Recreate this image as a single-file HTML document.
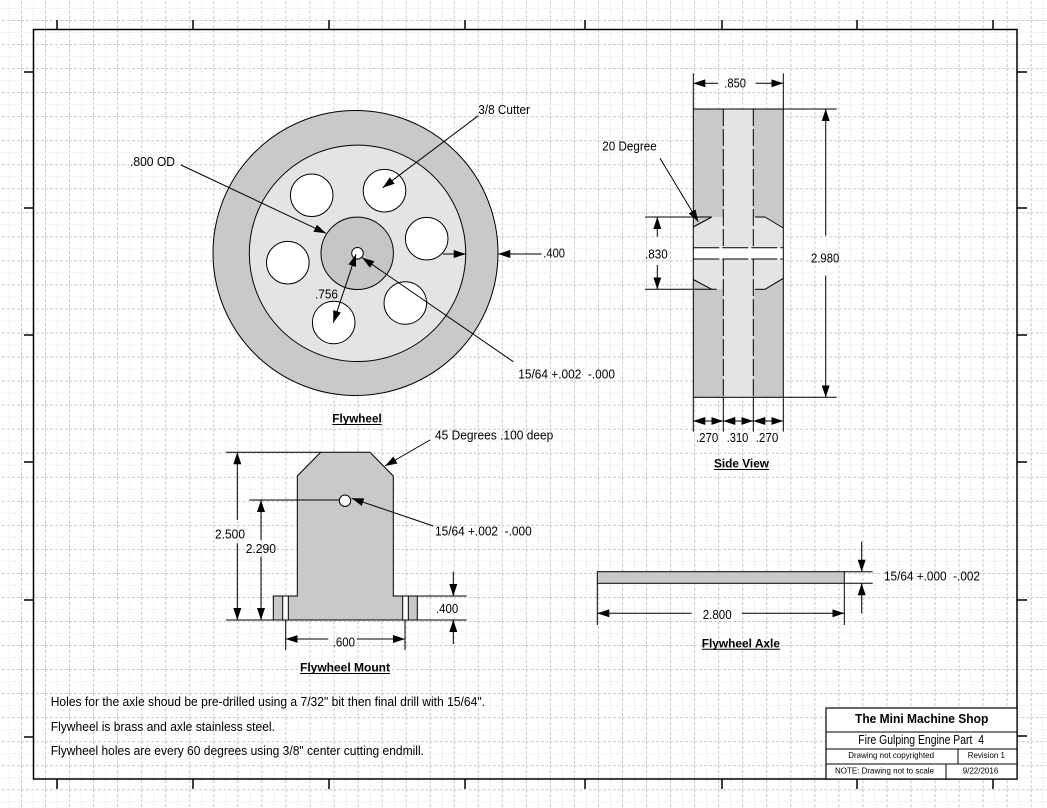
<!DOCTYPE html>
<html><head><meta charset="utf-8">
<style>
html,body{margin:0;padding:0;background:#fff;}
svg{display:block;}
text{font-family:"Liberation Sans",Arial,sans-serif;fill:#000;}
</style></head><body>
<svg width="1047" height="808" viewBox="0 0 1047 808" xmlns="http://www.w3.org/2000/svg">
<defs>
<pattern id="g" width="24.04" height="24.04" patternUnits="userSpaceOnUse" x="21" y="20">
 <line x1="0.5" y1="0" x2="0.5" y2="24.04" stroke="#c6c6c6" stroke-width="1" stroke-dasharray="3 2"/>
 <line x1="0" y1="0.5" x2="24.04" y2="0.5" stroke="#c6c6c6" stroke-width="1" stroke-dasharray="3 2"/>
 <line x1="12.5" y1="0" x2="12.5" y2="24.04" stroke="#dadada" stroke-width="1" stroke-dasharray="1 2"/>
 <line x1="0" y1="12.5" x2="24.04" y2="12.5" stroke="#dadada" stroke-width="1" stroke-dasharray="1 2"/>
</pattern>
<marker id="a" viewBox="0 0 12 8" refX="12" refY="4" markerWidth="12" markerHeight="8" markerUnits="userSpaceOnUse" orient="auto-start-reverse"><path d="M0,0 L12,4 L0,8 z" fill="#000"/></marker>
</defs>
<rect width="1047" height="808" fill="#fff"/>
<rect width="1047" height="808" fill="url(#g)"/>

<!-- frame -->
<rect x="33.5" y="29.5" width="983.5" height="749.5" fill="none" stroke="#000" stroke-width="1.5"/>
<g stroke="#000" stroke-width="1.5">
 <line x1="57" y1="20" x2="57" y2="29"/><line x1="193" y1="20" x2="193" y2="29"/><line x1="329" y1="20" x2="329" y2="29"/><line x1="465" y1="20" x2="465" y2="29"/><line x1="585" y1="20" x2="585" y2="29"/><line x1="722" y1="20" x2="722" y2="29"/><line x1="857" y1="20" x2="857" y2="29"/><line x1="993" y1="20" x2="993" y2="29"/>
 <line x1="57" y1="779" x2="57" y2="789"/><line x1="193" y1="779" x2="193" y2="789"/><line x1="329" y1="779" x2="329" y2="789"/><line x1="465" y1="779" x2="465" y2="789"/><line x1="585" y1="779" x2="585" y2="789"/><line x1="722" y1="779" x2="722" y2="789"/><line x1="857" y1="779" x2="857" y2="789"/><line x1="993" y1="779" x2="993" y2="789"/>
 <line x1="24" y1="72" x2="33" y2="72"/><line x1="24" y1="208" x2="33" y2="208"/><line x1="24" y1="335" x2="33" y2="335"/><line x1="24" y1="462" x2="33" y2="462"/><line x1="24" y1="600" x2="33" y2="600"/><line x1="24" y1="737" x2="33" y2="737"/>
 <line x1="1017" y1="72" x2="1027" y2="72"/><line x1="1017" y1="208" x2="1027" y2="208"/><line x1="1017" y1="335" x2="1027" y2="335"/><line x1="1017" y1="462" x2="1027" y2="462"/><line x1="1017" y1="600" x2="1027" y2="600"/><line x1="1017" y1="736" x2="1027" y2="736"/>
</g>

<!-- Flywheel -->
<circle cx="355.5" cy="253" r="142.5" fill="#c9c9c9" stroke="#000"/>
<circle cx="357.5" cy="253.3" r="108.2" fill="#e4e4e4" stroke="#000"/>
<circle cx="357.2" cy="253.3" r="36.2" fill="#c6c6c6" stroke="#000"/>
<circle cx="357.5" cy="253.3" r="5.8" fill="#fff" stroke="#000"/>
<g fill="#fff" stroke="#000">
 <circle cx="311.7" cy="195.3" r="21.3"/>
 <circle cx="384.5" cy="190.7" r="21.3"/>
 <circle cx="426.7" cy="238.7" r="21.3"/>
 <circle cx="287.8" cy="262.7" r="21.3"/>
 <circle cx="405.3" cy="303" r="21.3"/>
 <circle cx="333.7" cy="322.5" r="21.3"/>
</g>
<g stroke="#000" stroke-width="1" fill="none">
 <line x1="478.3" y1="115.7" x2="382.7" y2="187.7" marker-end="url(#a)"/>
 <line x1="181" y1="165" x2="326" y2="233.3" marker-end="url(#a)"/>
 <line x1="356" y1="254.3" x2="333.3" y2="322.7" marker-start="url(#a)" marker-end="url(#a)"/>
 <line x1="513.3" y1="361.7" x2="362.3" y2="257.7" marker-end="url(#a)"/>
 <line x1="541.7" y1="254" x2="498.3" y2="254" marker-end="url(#a)"/>
 <line x1="442.7" y1="254" x2="465.7" y2="254" marker-end="url(#a)"/>
</g>
<text x="478.3" y="114" font-size="12.5" textLength="51.7" lengthAdjust="spacingAndGlyphs">3/8 Cutter</text>
<text x="130" y="166" font-size="12.5" textLength="45" lengthAdjust="spacingAndGlyphs">.800 OD</text>
<text x="315" y="298.5" font-size="12.5" textLength="23" lengthAdjust="spacingAndGlyphs">.756</text>
<text x="518.3" y="378.5" font-size="12.5" textLength="96.7" lengthAdjust="spacingAndGlyphs">15/64 +.002&#160; -.000</text>
<text x="543.3" y="257.5" font-size="12.5" textLength="21.7" lengthAdjust="spacingAndGlyphs">.400</text>
<text x="332.3" y="422.7" font-size="12" font-weight="bold" textLength="49.4" lengthAdjust="spacingAndGlyphs">Flywheel</text>
<line x1="332.3" y1="424.5" x2="381.7" y2="424.5" stroke="#000" stroke-width="1"/>

<!-- Side view -->
<rect x="693.3" y="109" width="90" height="288.3" fill="#c9c9c9"/>
<rect x="723.3" y="109" width="30" height="288.3" fill="#e4e4e4"/>
<polygon points="711.7,217 765,217 783.3,228 783.3,278.3 765,289.3 711.7,289.3 693.3,279.5 693.3,227" fill="#e4e4e4"/>
<g stroke="#000" stroke-width="1" fill="none">
 <line x1="723.3" y1="109" x2="723.3" y2="247.7" stroke-dasharray="17 3"/>
 <line x1="753.3" y1="109" x2="753.3" y2="247.7" stroke-dasharray="17 3"/>
 <line x1="723.3" y1="259" x2="723.3" y2="397.3" stroke-dasharray="17 3"/>
 <line x1="753.3" y1="259" x2="753.3" y2="397.3" stroke-dasharray="17 3"/>
</g>
<rect x="693.3" y="247.7" width="90" height="11.3" fill="#fff"/>
<g stroke="#000" stroke-width="1" fill="none">
 <line x1="693.3" y1="247.7" x2="783.3" y2="247.7" stroke-dasharray="26 3"/>
 <line x1="693.3" y1="259" x2="783.3" y2="259" stroke-dasharray="26 3"/>
 <rect x="693.3" y="109" width="90" height="288.3"/>
 <line x1="711.7" y1="217" x2="693.3" y2="227"/>
 <line x1="765" y1="217" x2="783.3" y2="228"/>
 <line x1="755" y1="217" x2="765" y2="217"/>
 <line x1="693.3" y1="279.5" x2="711.7" y2="289.3"/>
 <line x1="765" y1="289.3" x2="783.3" y2="278.3"/>
 <line x1="755" y1="289.3" x2="765" y2="289.3"/>
 <!-- .850 -->
 <line x1="693.3" y1="73.3" x2="693.3" y2="109"/>
 <line x1="783.3" y1="73.3" x2="783.3" y2="109"/>
 <line x1="718" y1="83.3" x2="693.3" y2="83.3" marker-end="url(#a)"/>
 <line x1="755.7" y1="83.3" x2="783.3" y2="83.3" marker-end="url(#a)"/>
 <!-- 2.980 -->
 <line x1="783.3" y1="109" x2="836.7" y2="109"/>
 <line x1="783.3" y1="397.3" x2="836.7" y2="397.3"/>
 <line x1="825.7" y1="235.7" x2="825.7" y2="109" marker-end="url(#a)"/>
 <line x1="825.7" y1="275.7" x2="825.7" y2="397.3" marker-end="url(#a)"/>
 <!-- .830 -->
 <line x1="645" y1="217" x2="711.7" y2="217"/>
 <line x1="645" y1="289.3" x2="716.7" y2="289.3"/>
 <line x1="657.3" y1="236.7" x2="657.3" y2="217" marker-end="url(#a)"/>
 <line x1="657.3" y1="265" x2="657.3" y2="289.3" marker-end="url(#a)"/>
 <!-- 20 degree -->
 <line x1="660" y1="158.3" x2="698.3" y2="221.7" marker-end="url(#a)"/>
 <!-- bottom dims -->
 <line x1="693.3" y1="397.3" x2="693.3" y2="431.7"/>
 <line x1="723.3" y1="397.3" x2="723.3" y2="431.7"/>
 <line x1="753.3" y1="397.3" x2="753.3" y2="431.7"/>
 <line x1="783.3" y1="397.3" x2="783.3" y2="431.7"/>
 <line x1="693.3" y1="421" x2="723.3" y2="421" marker-start="url(#a)" marker-end="url(#a)"/>
 <line x1="723.3" y1="421" x2="753.3" y2="421" marker-start="url(#a)" marker-end="url(#a)"/>
 <line x1="753.3" y1="421" x2="783.3" y2="421" marker-start="url(#a)" marker-end="url(#a)"/>
</g>
<text x="724.3" y="87.5" font-size="12.5" textLength="21.7" lengthAdjust="spacingAndGlyphs">.850</text>
<text x="602.3" y="150.5" font-size="12.5" textLength="54.4" lengthAdjust="spacingAndGlyphs">20 Degree</text>
<text x="645" y="258.5" font-size="12.5" textLength="22.7" lengthAdjust="spacingAndGlyphs">.830</text>
<text x="811" y="262.7" font-size="12.5" textLength="28.3" lengthAdjust="spacingAndGlyphs">2.980</text>
<text x="696" y="442" font-size="12.5" textLength="22.3" lengthAdjust="spacingAndGlyphs">.270</text>
<text x="726.7" y="442" font-size="12.5" textLength="21.6" lengthAdjust="spacingAndGlyphs">.310</text>
<text x="755.7" y="442" font-size="12.5" textLength="22.6" lengthAdjust="spacingAndGlyphs">.270</text>
<text x="714" y="467.5" font-size="12" font-weight="bold" textLength="55" lengthAdjust="spacingAndGlyphs">Side View</text>
<line x1="714" y1="469.5" x2="769" y2="469.5" stroke="#000" stroke-width="1"/>

<!-- Flywheel Mount -->
<polygon points="320.7,452.3 370,452.3 393.3,476 393.3,596 417.3,596 417.3,620 273.3,620 273.3,596 297.3,596 297.3,476" fill="#c9c9c9" stroke="#000"/>
<rect x="282.7" y="596" width="5.6" height="24" fill="#fff" stroke="#000"/>
<rect x="402.7" y="596" width="5.6" height="24" fill="#fff" stroke="#000"/>
<circle cx="345" cy="500.7" r="5.7" fill="#fff" stroke="#000"/>
<g stroke="#000" stroke-width="1" fill="none">
 <line x1="226" y1="452.3" x2="320.7" y2="452.3"/>
 <line x1="226" y1="620" x2="466.7" y2="620"/>
 <line x1="393.3" y1="596" x2="466.7" y2="596"/>
 <line x1="249.3" y1="500" x2="339.3" y2="500"/>
 <line x1="237.3" y1="520" x2="237.3" y2="452.3" marker-end="url(#a)"/>
 <line x1="237.3" y1="543.3" x2="237.3" y2="620" marker-end="url(#a)"/>
 <line x1="261" y1="540" x2="261" y2="500" marker-end="url(#a)"/>
 <line x1="261" y1="556.7" x2="261" y2="620" marker-end="url(#a)"/>
 <line x1="453.3" y1="571.7" x2="453.3" y2="596" marker-end="url(#a)"/>
 <line x1="453.3" y1="644" x2="453.3" y2="620" marker-end="url(#a)"/>
 <line x1="285.7" y1="620" x2="285.7" y2="650"/>
 <line x1="405" y1="620" x2="405" y2="650"/>
 <line x1="328.3" y1="639" x2="285.7" y2="639" marker-end="url(#a)"/>
 <line x1="356.7" y1="639" x2="405" y2="639" marker-end="url(#a)"/>
 <line x1="430" y1="440" x2="385" y2="466" marker-end="url(#a)"/>
 <line x1="433.3" y1="526" x2="351.7" y2="498.3" marker-end="url(#a)"/>
</g>
<text x="435" y="439.5" font-size="12.5" textLength="118.3" lengthAdjust="spacingAndGlyphs">45 Degrees .100 deep</text>
<text x="215" y="538.5" font-size="12.5" textLength="30" lengthAdjust="spacingAndGlyphs">2.500</text>
<text x="245.7" y="553" font-size="12.5" textLength="30.3" lengthAdjust="spacingAndGlyphs">2.290</text>
<text x="435" y="535.5" font-size="12.5" textLength="96.7" lengthAdjust="spacingAndGlyphs">15/64 +.002&#160; -.000</text>
<text x="436" y="613" font-size="12.5" textLength="22.3" lengthAdjust="spacingAndGlyphs">.400</text>
<text x="332.7" y="646.5" font-size="12.5" textLength="22.3" lengthAdjust="spacingAndGlyphs">.600</text>
<text x="300" y="671.7" font-size="12" font-weight="bold" textLength="90" lengthAdjust="spacingAndGlyphs">Flywheel Mount</text>
<line x1="300" y1="673.5" x2="390" y2="673.5" stroke="#000" stroke-width="1"/>

<!-- Axle -->
<rect x="597.3" y="571.7" width="247" height="11.6" fill="#c9c9c9" stroke="#000"/>
<g stroke="#000" stroke-width="1" fill="none">
 <line x1="844.3" y1="571.7" x2="872.7" y2="571.7"/>
 <line x1="844.3" y1="583.3" x2="872.7" y2="583.3"/>
 <line x1="861.7" y1="541.7" x2="861.7" y2="571.7" marker-end="url(#a)"/>
 <line x1="861.7" y1="613.3" x2="861.7" y2="583.3" marker-end="url(#a)"/>
 <line x1="597.3" y1="583.3" x2="597.3" y2="625"/>
 <line x1="844.3" y1="583.3" x2="844.3" y2="625"/>
 <line x1="691.7" y1="613.3" x2="597.3" y2="613.3" marker-end="url(#a)"/>
 <line x1="741.7" y1="613.3" x2="844.3" y2="613.3" marker-end="url(#a)"/>
</g>
<text x="884" y="580.5" font-size="12.5" textLength="96" lengthAdjust="spacingAndGlyphs">15/64 +.000&#160; -.002</text>
<text x="702.7" y="619" font-size="12.5" textLength="29" lengthAdjust="spacingAndGlyphs">2.800</text>
<text x="701.7" y="647.3" font-size="12" font-weight="bold" textLength="78.3" lengthAdjust="spacingAndGlyphs">Flywheel Axle</text>
<line x1="701.7" y1="649.2" x2="780" y2="649.2" stroke="#000" stroke-width="1"/>

<!-- Notes -->
<text x="50.7" y="706" font-size="13" textLength="434.3" lengthAdjust="spacingAndGlyphs">Holes for the axle shoud be pre-drilled using a 7/32" bit then final drill with 15/64".</text>
<text x="50.7" y="731" font-size="13" textLength="224.3" lengthAdjust="spacingAndGlyphs">Flywheel is brass and axle stainless steel.</text>
<text x="50.7" y="755" font-size="13" textLength="373.3" lengthAdjust="spacingAndGlyphs">Flywheel holes are every 60 degrees using 3/8" center cutting endmill.</text>

<!-- Title block -->
<rect x="826" y="708" width="191" height="71" fill="#fff" stroke="#000" stroke-width="1.2"/>
<g stroke="#000" stroke-width="1">
 <line x1="826" y1="732" x2="1017" y2="732"/>
 <line x1="826" y1="749" x2="1017" y2="749"/>
 <line x1="826" y1="764" x2="1017" y2="764"/>
 <line x1="958" y1="749" x2="958" y2="764"/>
 <line x1="946" y1="764" x2="946" y2="779"/>
</g>
<text x="855" y="723" font-size="13" font-weight="bold" textLength="133.3" lengthAdjust="spacingAndGlyphs">The Mini Machine Shop</text>
<text x="858.3" y="744" font-size="12.5" textLength="125.7" lengthAdjust="spacingAndGlyphs">Fire Gulping Engine Part&#160; 4</text>
<text x="848.3" y="758" font-size="8.5" textLength="85.7" lengthAdjust="spacingAndGlyphs">Drawing not copyrighted</text>
<text x="967.7" y="758" font-size="8.5" textLength="37.3" lengthAdjust="spacingAndGlyphs">Revision 1</text>
<text x="835" y="773.3" font-size="8.5" textLength="99" lengthAdjust="spacingAndGlyphs">NOTE: Drawing not to scale</text>
<text x="962.7" y="773.3" font-size="8.5" textLength="35.6" lengthAdjust="spacingAndGlyphs">9/22/2016</text>
</svg>
</body></html>
